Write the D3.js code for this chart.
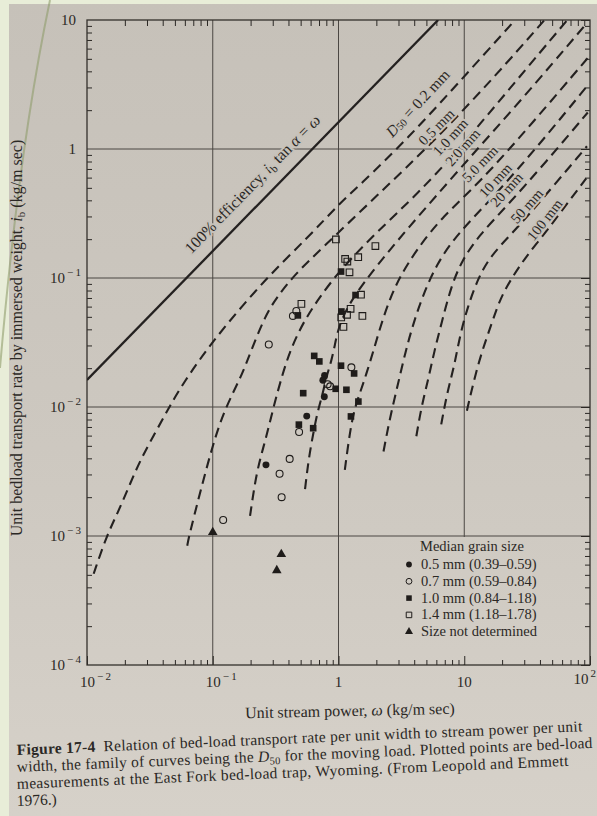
<!DOCTYPE html>
<html>
<head>
<meta charset="utf-8">
<script src="https://cdn.jsdelivr.net/npm/d3@7"></script>
<style>
    html, body { margin: 0; padding: 0; background: #e8edd8; }
    svg { display: block; }
    text { font-family: "Liberation Serif", "DejaVu Serif", serif; fill: #2b2825; }
</style>
</head>
<body>
<script>
// values (unit stream power w, transport rate i_b)
const xTickExp = [-2, -1, 0, 1, 2];
const yTickExp = [-4, -3, -2, -1, 0, 1];

const sizeLabels = ["0.2 mm", "0.5 mm", "1.0 mm", "2.0 mm", "5.0 mm", "10 mm", "20 mm", "50 mm", "100 mm"];

const d02 = [[0.0113, 0.00051], [0.0143, 0.0010], [0.0176, 0.00152], [0.0216, 0.00243], [0.0265, 0.00387],
    [0.0345, 0.0062], [0.0449, 0.0099], [0.0574, 0.015], [0.1005, 0.033], [0.265, 0.10], [0.578, 0.208],
    [1.04, 0.387], [1.43, 0.508], [3.59, 1.22], [8.52, 3.07], [25.4, 10]];
const d05 = [[0.0627, 0.00084], [0.0644, 0.00097], [0.0728, 0.00157], [0.1, 0.00517], [0.126, 0.0099],
    [0.170, 0.0175], [0.199, 0.0265], [0.262, 0.0513], [0.327, 0.072], [0.453, 0.1076], [0.740, 0.170],
    [2.0, 0.431], [5.96, 1.19], [17.4, 3.62], [43.5, 10]];
const d10 = [[0.198, 0.00143], [0.223, 0.00318], [0.262, 0.00547], [0.306, 0.01023], [0.358, 0.0179],
    [0.419, 0.0286], [0.535, 0.047], [0.705, 0.0704], [1.015, 0.1137], [1.98, 0.2235], [4.24, 0.448],
    [9.12, 1.0], [24.7, 3.2], [66, 10]];
const d20 = [[0.542, 0.00231], [0.580, 0.00403], [0.639, 0.00672], [0.681, 0.00914], [0.748, 0.01256],
    [0.797, 0.01687], [0.877, 0.02256], [0.936, 0.0303], [0.995, 0.0406], [1.143, 0.056], [1.358, 0.0741],
    [1.95, 0.12], [3.47, 0.236], [9.58, 0.734], [29, 2.45], [90, 8.95]];
const d50 = [[1.123, 0.00326], [1.236, 0.0066], [1.349, 0.0099], [1.50, 0.0133], [1.66, 0.0179], [1.89, 0.0269],
    [2.17, 0.043], [2.56, 0.0692], [3.10, 0.1037], [4.15, 0.164], [6.70, 0.30], [13.2, 0.545], [35, 1.6], [98, 5.2]];
const d100 = [[2.28, 0.00452], [2.57, 0.00834], [2.97, 0.015], [3.41, 0.0269], [3.90, 0.043], [4.61, 0.0702],
    [5.98, 0.127], [8.77, 0.219], [17.5, 0.435], [41, 1.13], [97, 3.16]];
const d200 = [[4.16, 0.00593], [4.55, 0.0099], [5.21, 0.01687], [5.77, 0.0269], [6.61, 0.045], [7.82, 0.0845],
    [9.53, 0.136], [13.1, 0.214], [21.4, 0.354], [45, 0.8], [96, 1.92]];
const d500 = [[6.56, 0.00733], [7.28, 0.0127], [8.34, 0.0208], [9.27, 0.0365], [10.7, 0.0607], [12.9, 0.1],
    [16.0, 0.145], [22.1, 0.205], [31, 0.29], [94.6, 1.05]];
const d1000 = [[10.5, 0.00935], [11.8, 0.0154], [13.8, 0.027], [16.6, 0.0448], [19.3, 0.0693], [24.0, 0.101],
    [31.2, 0.148], [43.1, 0.217], [93.3, 0.593]];
const curves = [d02, d05, d10, d20, d50, d100, d200, d500, d1000];

// 100% efficiency line
const efficiency = [[0.01, 0.0162], [6.2, 10]];

// measurements at the East Fork trap
const pts05 = [[0.775, 0.01754], [0.751, 0.0161], [0.771, 0.0120], [0.559, 0.0085], [0.265, 0.00356]];
const pts07 = [[0.434, 0.0508], [0.462, 0.0555], [0.279, 0.0305], [1.266, 0.0203], [0.820, 0.015],
    [0.858, 0.01446], [0.486, 0.0064], [0.409, 0.00396], [0.340, 0.00304], [0.353, 0.0020], [0.121, 0.00133]];
const pts10 = [[1.048, 0.1122], [1.366, 0.0738], [0.475, 0.0513], [1.054, 0.055], [0.641, 0.0249],
    [0.704, 0.02256], [1.047, 0.0209], [1.331, 0.0182], [0.950, 0.01384], [1.156, 0.0136], [0.524, 0.0128],
    [1.439, 0.01102], [1.256, 0.00845], [0.484, 0.0073], [0.629, 0.00685]];
const pts14 = [[0.954, 0.199], [1.965, 0.177], [1.435, 0.145], [1.129, 0.1406], [1.176, 0.134], [1.223, 0.1107],
    [1.51, 0.0742], [0.507, 0.063], [1.248, 0.0577], [1.169, 0.0518], [1.051, 0.0495], [1.549, 0.0508],
    [1.095, 0.0418]];
const ptsNone = [[0.1, 0.00107], [0.351, 0.000722], [0.323, 0.000541]];

const legendTitle = "Median grain size";
const legendText = ["0.5 mm (0.39\u20130.59)", "0.7 mm (0.59\u20130.84)", "1.0 mm (0.84\u20131.18)",
    "1.4 mm (1.18\u20131.78)", "Size not determined"];

// where the size labels sit
const labelSpots = [[4.22, 2.29], [5.99, 1.48], [7.75, 1.24], [9.7, 1.03], [13.3, 0.767], [17.7, 0.573],
    [21.7, 0.484], [31.4, 0.362], [43.5, 0.283]];

const W = 597, H = 816;
const pLeft = 87, pRight = 590, pTop = 20, pBottom = 665;
const ink = "#2b2825";

const x = d3.scaleLog().domain([0.01, 100]).range([pLeft, pRight]);
const y = d3.scaleLog().domain([1e-4, 10]).range([pBottom, pTop]);

const svg = d3.select("body").append("svg")
    .attr("width", W)
    .attr("height", H);

const defs = svg.append("defs");
const grad = defs.append("linearGradient")
    .attr("id", "page")
    .attr("gradientUnits", "userSpaceOnUse")
    .attr("x1", 0).attr("y1", 0).attr("x2", 0).attr("y2", H);
grad.append("stop").attr("offset", 0).attr("stop-color", "#c6c1b9");
grad.append("stop").attr("offset", 0.55).attr("stop-color", "#cdc8c0");
grad.append("stop").attr("offset", 1).attr("stop-color", "#d6d1c9");
defs.append("clipPath").attr("id", "plot")
    .append("rect")
    .attr("x", pLeft).attr("y", pTop)
    .attr("width", pRight - pLeft).attr("height", pBottom - pTop);

// page
svg.append("rect").attr("x", 9).attr("y", 4).attr("width", W - 9).attr("height", H - 4).attr("fill", "url(#page)");
svg.append("path")
    .attr("d", "M0,368 C10,250 27,110 50,0")
    .attr("fill", "none")
    .attr("stroke", "#8f9d6c")
    .attr("stroke-width", 2)
    .attr("opacity", 0.6);

// grid at the decades
const grid = svg.append("g").attr("stroke", "#4b4743").attr("stroke-width", 1);
[0.1, 1, 10].forEach(v => {
    grid.append("line").attr("x1", x(v)).attr("x2", x(v)).attr("y1", pTop).attr("y2", pBottom);
});
[1e-3, 1e-2, 0.1, 1].forEach(v => {
    grid.append("line").attr("x1", pLeft).attr("x2", pRight).attr("y1", y(v)).attr("y2", y(v));
});

// legend area has no grid
svg.append("rect")
    .attr("x", 400).attr("y", y(1e-3) + 1)
    .attr("width", pRight - 401).attr("height", pBottom - y(1e-3) - 2)
    .attr("fill", "url(#page)");

// inward ticks
const xMinor = [], yMinor = [];
for (let e = -2; e < 2; e++) for (let m = 2; m <= 9; m++) xMinor.push(m * Math.pow(10, e));
for (let e = -4; e < 1; e++) for (let m = 2; m <= 9; m++) yMinor.push(m * Math.pow(10, e));
const xMajor = xTickExp.map(e => Math.pow(10, e));
const yMajor = yTickExp.map(e => Math.pow(10, e));

function tickAxis(axis, tx, ty) {
    const g = svg.append("g").attr("transform", `translate(${tx},${ty})`).call(axis);
    g.select(".domain").remove();
    g.selectAll("line").attr("stroke", ink).attr("stroke-width", 1);
    g.selectAll("text").remove();
}
tickAxis(d3.axisBottom(x).tickValues(xMinor).tickSize(-5).tickFormat(""), 0, pBottom);
tickAxis(d3.axisTop(x).tickValues(xMinor).tickSize(-6).tickFormat(""), 0, pTop);
tickAxis(d3.axisBottom(x).tickValues(xMajor).tickSize(-9).tickFormat(""), 0, pBottom);
tickAxis(d3.axisLeft(y).tickValues(yMinor).tickSize(-5).tickFormat(""), pLeft, 0);
tickAxis(d3.axisRight(y).tickValues(yMinor).tickSize(-5).tickFormat(""), pRight, 0);
tickAxis(d3.axisRight(y).tickValues(yMajor).tickSize(-9).tickFormat(""), pRight, 0);

svg.append("rect")
    .attr("x", pLeft).attr("y", pTop)
    .attr("width", pRight - pLeft).attr("height", pBottom - pTop)
    .attr("fill", "none")
    .attr("stroke", "#34302c")
    .attr("stroke-width", 1.3);

// tick labels
function powLabel(sel, e, anchorX, baseY, align) {
    const t = sel.append("text").attr("font-size", 15).attr("y", baseY).attr("x", anchorX).attr("text-anchor", align);
    if (e === 0) { t.text("1"); return; }
    if (e === 1) { t.text("10"); return; }
    t.append("tspan").text("10");
    t.append("tspan").attr("font-size", 11).attr("dy", -7).attr("dx", 2)
        .text((e < 0 ? "\u2212\u2009" : "") + Math.abs(e));
}
const labels = svg.append("g");
xTickExp.forEach(e => {
    const px = x(Math.pow(10, e));
    if (e === 0 || e === 1) powLabel(labels, e, px, 687, "middle");
    else if (e === 2) powLabel(labels, e, W - 1, 684, "end");
    else powLabel(labels, e, px - 7, 687, "start");
});
yTickExp.forEach(e => {
    const py = y(Math.pow(10, e)) + 5;
    if (e === 0 || e === 1) powLabel(labels, e, 76, py, "end");
    else powLabel(labels, e, 81, py, "end");
});

// curves
const line = d3.line()
    .x(d => x(d[0]))
    .y(d => y(d[1]));
const plot = svg.append("g").attr("clip-path", "url(#plot)");

plot.selectAll("path.d50")
    .data(curves)
    .enter().append("path")
    .attr("class", "d50")
    .attr("d", line.curve(d3.curveBasis))
    .attr("fill", "none")
    .attr("stroke", "#242120")
    .attr("stroke-width", 2.1)
    .attr("stroke-dasharray", "10,6");

plot.append("path")
    .attr("d", d3.line().x(d => x(d[0])).y(d => y(d[1]))(efficiency))
    .attr("fill", "none")
    .attr("stroke", "#242120")
    .attr("stroke-width", 2.3);

// helpers to lay labels along the curves
function onCurve(pts, w) {
    for (let i = 1; i < pts.length; i++) {
        if (w <= pts[i][0]) {
            const [w0, b0] = pts[i - 1], [w1, b1] = pts[i];
            const t = Math.log(w / w0) / Math.log(w1 / w0);
            return Math.exp(Math.log(b0) + t * Math.log(b1 / b0));
        }
    }
    return pts[pts.length - 1][1];
}
function slopeAngle(pts, w) {
    const a = w / 1.25, b = Math.min(w * 1.25, pts[pts.length - 1][0]);
    return Math.atan2(y(onCurve(pts, b)) - y(onCurve(pts, a)), x(b) - x(a)) * 180 / Math.PI;
}
function halo(t) {
    return t.attr("stroke", "url(#page)")
        .attr("stroke-width", 4)
        .attr("stroke-linejoin", "round")
        .attr("paint-order", "stroke");
}

const sizeG = svg.append("g");
sizeLabels.forEach((s, i) => {
    const [w, b] = labelSpots[i];
    const ang = slopeAngle(curves[i], w);
    const t = halo(sizeG.append("text"))
        .attr("font-size", i === 0 ? 15.5 : 14.5)
        .attr("text-anchor", "middle")
        .attr("dominant-baseline", "central")
        .attr("transform", `translate(${x(w)},${y(b)}) rotate(${ang})`);
    if (i === 0) {
        t.append("tspan").attr("font-style", "italic").text("D");
        t.append("tspan").attr("font-size", 10.5).attr("dy", 3).text("50");
        t.append("tspan").attr("dy", -3).text(" = " + s);
    } else {
        t.text(s);
    }
});

// efficiency label
{
    const w0 = 0.08;
    const px = x(w0), py = y(efficiency[0][1] * w0 / efficiency[0][0]);
    const ang = Math.atan2(y(efficiency[1][1]) - y(efficiency[0][1]), x(efficiency[1][0]) - x(efficiency[0][0]));
    const off = 13;
    const tx = px + Math.sin(ang) * off, ty = py - Math.cos(ang) * off;
    const t = halo(svg.append("text"))
        .attr("font-size", 16)
        .attr("transform", `translate(${tx},${ty}) rotate(${ang * 180 / Math.PI})`);
    t.append("tspan").text("100% efficiency, ");
    t.append("tspan").attr("font-style", "italic").text("i");
    t.append("tspan").attr("font-size", 11).attr("dy", 3).text("b");
    t.append("tspan").attr("dy", -3).text(" tan ");
    t.append("tspan").attr("font-style", "italic").text("\u03b1");
    t.append("tspan").text(" = ");
    t.append("tspan").attr("font-style", "italic").text("\u03c9");
}

// points
const series = [
    { pts: pts05, type: d3.symbolCircle, size: 38, open: false },
    { pts: pts07, type: d3.symbolCircle, size: 38, open: true },
    { pts: pts10, type: d3.symbolSquare, size: 44, open: false },
    { pts: pts14, type: d3.symbolSquare, size: 44, open: true },
    { pts: ptsNone, type: d3.symbolTriangle, size: 40, open: false }
];
const pointG = svg.append("g");
series.forEach(s => {
    pointG.selectAll(null)
        .data(s.pts)
        .enter().append("path")
        .attr("d", d3.symbol(s.type, s.size))
        .attr("transform", d => `translate(${x(d[0])},${y(d[1])})`)
        .attr("fill", s.open ? "none" : "#1f1c1a")
        .attr("stroke", "#1f1c1a")
        .attr("stroke-width", s.open ? 1.1 : 0);
});

// legend
const lg = svg.append("g");
lg.append("text").attr("x", 420).attr("y", 551).attr("font-size", 14.5).text(legendTitle);
legendText.forEach((txt, i) => {
    const by = 569 + i * 16.8;
    const s = series[i];
    lg.append("path")
        .attr("d", d3.symbol(s.type, s.size * 0.7))
        .attr("transform", `translate(409,${by - 4.5})`)
        .attr("fill", s.open ? "none" : "#1f1c1a")
        .attr("stroke", "#1f1c1a")
        .attr("stroke-width", s.open ? 1 : 0);
    lg.append("text").attr("x", 421).attr("y", by).attr("font-size", 14.5).text(txt);
});

// axis titles
{
    const t = svg.append("text")
        .attr("font-size", 16)
        .attr("text-anchor", "middle")
        .attr("transform", "translate(350,716) rotate(-1.2)");
    t.append("tspan").text("Unit stream power, ");
    t.append("tspan").attr("font-style", "italic").text("\u03c9");
    t.append("tspan").text(" (kg/m sec)");

    const u = svg.append("text")
        .attr("font-size", 16)
        .attr("text-anchor", "middle")
        .attr("transform", "translate(22,338) rotate(-90)");
    u.append("tspan").text("Unit bedload transport rate by immersed weight, ");
    u.append("tspan").attr("font-style", "italic").text("i");
    u.append("tspan").attr("font-size", 11).attr("dy", 3).text("b");
    u.append("tspan").attr("dy", -3).text(" (kg/m sec)");
}

// caption
const cap = svg.append("g").attr("font-size", 15.5);
function capLine(by, len) {
    const t = cap.append("text").attr("transform", `translate(17,${by}) rotate(-2.4)`);
    if (len) t.attr("textLength", len).attr("lengthAdjust", "spacing");
    return t;
}
{
    const l1 = capLine(755, 566);
    l1.append("tspan").attr("font-weight", "bold").text("Figure 17-4");
    l1.append("tspan").text("\u2002Relation of bed-load transport rate per unit width to stream power per unit");
    const l2 = capLine(772, 576);
    l2.append("tspan").text("width, the family of curves being the ");
    l2.append("tspan").attr("font-style", "italic").text("D");
    l2.append("tspan").attr("font-size", 10.5).attr("dy", 3).text("50");
    l2.append("tspan").attr("dy", -3).text(" for the moving load. Plotted points are bed-load");
    capLine(789, 552).text("measurements at the East Fork bed-load trap, Wyoming. (From Leopold and Emmett");
    capLine(806).text("1976.)");
}
</script>
</body>
</html>
